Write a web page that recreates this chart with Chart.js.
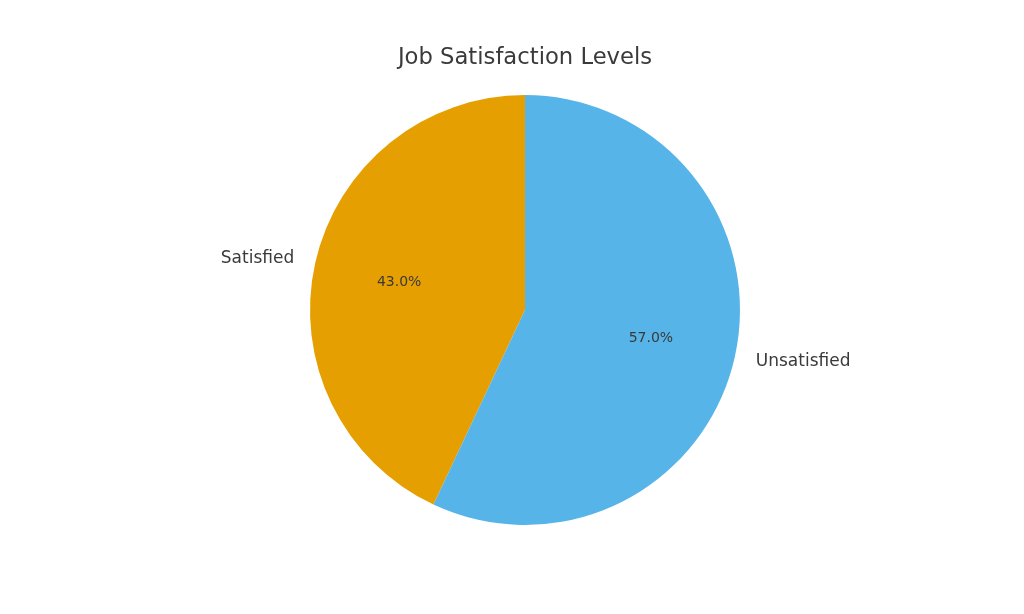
<!DOCTYPE html>
<html>
<head>
<meta charset="utf-8">
<title>Job Satisfaction Levels</title>
<script src="https://cdn.jsdelivr.net/npm/chart.js@4.4.0/dist/chart.umd.min.js"></script>
<style>
    html, body { margin: 0; padding: 0; background: #ffffff; }
    canvas { display: block; }
</style>
</head>
<body>
<canvas id="pie-chart" width="1024" height="614"></canvas>
<script>
// Chart data
const categories = ['Satisfied', 'Unsatisfied'];
const shares = [43, 57];
const sliceColors = ['#E69F00', '#56B4E9'];

const textColor = '#3a3a3a';
const total = shares.reduce((a, b) => a + b, 0);

// Draws the category names outside the pie and the percentages inside it
const sliceLabels = {
    id: 'sliceLabels',
    afterDatasetsDraw(chart) {
        const ctx = chart.ctx;
        const arcs = chart.getDatasetMeta(0).data;
        ctx.save();
        ctx.fillStyle = textColor;
        ctx.textBaseline = 'middle';
        arcs.forEach((arc, i) => {
            const mid = (arc.startAngle + arc.endAngle) / 2;
            const r = arc.outerRadius;
            const cos = Math.cos(mid);
            const sin = Math.sin(mid);

            ctx.font = '17px "DejaVu Sans"';
            ctx.textAlign = cos >= 0 ? 'left' : 'right';
            ctx.fillText(categories[i], arc.x + cos * r * 1.1, arc.y + sin * r * 1.1);

            ctx.font = '14px "DejaVu Sans"';
            ctx.textAlign = 'center';
            const pct = (shares[i] / total * 100).toFixed(1) + '%';
            ctx.fillText(pct, arc.x + cos * r * 0.6, arc.y + sin * r * 0.6);
        });
        ctx.restore();
    }
};

const pieCtx = document.getElementById('pie-chart').getContext('2d');
const pieChart = new Chart(pieCtx, {
    type: 'pie',
    data: {
        labels: categories,
        datasets: [{
            data: shares,
            backgroundColor: sliceColors,
            borderWidth: 0
        }]
    },
    options: {
        responsive: false,
        animation: false,
        // first slice runs counter-clockwise from the top, like matplotlib
        rotation: -(shares[0] / total) * 360,
        layout: {
            padding: { top: 0, bottom: 89, left: 200, right: 174 }
        },
        plugins: {
            legend: { display: false },
            tooltip: { enabled: false },
            title: {
                display: true,
                text: 'Job Satisfaction Levels',
                color: textColor,
                font: { family: 'DejaVu Sans', size: 22.7, weight: 'normal' },
                padding: { top: 44.4, bottom: 23.4 }
            }
        }
    },
    plugins: [sliceLabels]
});
</script>
</body>
</html>
